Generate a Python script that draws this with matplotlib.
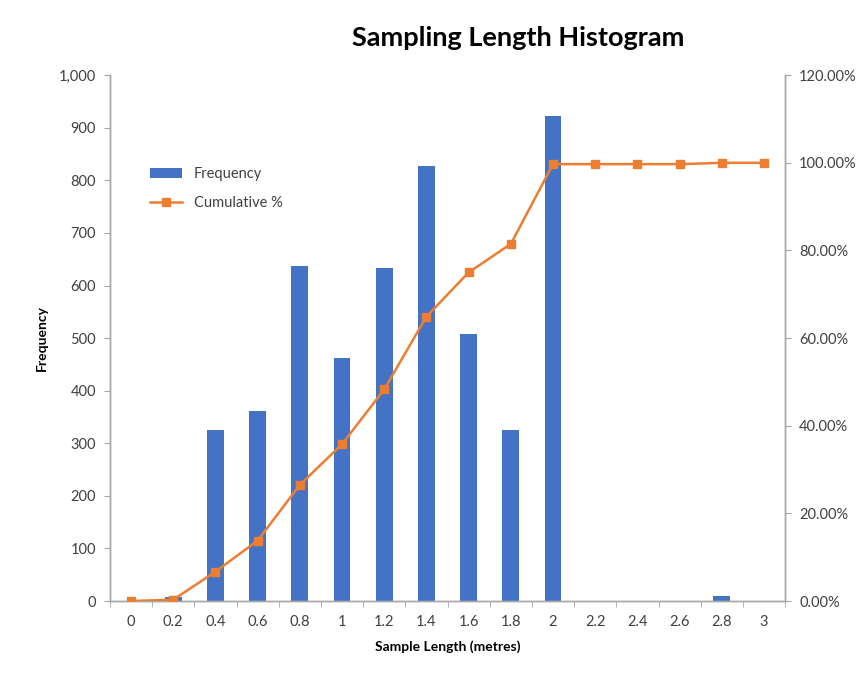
import matplotlib
matplotlib.use('Agg')
import matplotlib.pyplot as plt
from matplotlib.ticker import FuncFormatter, FixedLocator
import numpy as np

plt.rcParams['font.family'] = ['Lato', 'DejaVu Sans']

bins = ['0', '0.2', '0.4', '0.6', '0.8', '1', '1.2', '1.4', '1.6', '1.8',
        '2', '2.2', '2.4', '2.6', '2.8', '3']
frequency = [0, 7, 326, 361, 637, 462, 634, 827, 508, 326, 923, 0, 0, 0, 10, 0]
cumulative_pct = [0.0, 0.3, 6.7, 13.8, 26.5, 35.8, 48.3, 64.9, 75.0, 81.5,
                  99.7, 99.7, 99.7, 99.7, 100.0, 100.0]

blue = '#4472C4'
orange = '#ED7D31'
grey = '#A6A6A6'
txt = '#404040'

fig = plt.figure(figsize=(8.59, 6.75), dpi=100)
ax = fig.add_axes([0.128, 0.1096, 0.786, 0.779])
ax2 = ax.twinx()

x = np.arange(len(bins))
bars = ax.bar(x, frequency, width=0.4, color=blue, label='Frequency', zorder=2)
line, = ax2.plot(x, np.array(cumulative_pct) / 100, color=orange, lw=1.8,
                 marker='s', markersize=5.5, label='Cumulative %', zorder=3)

ax.set_xlim(-0.5, len(bins) - 0.5)
ax.set_ylim(0, 1000)
ax2.set_ylim(0, 1.2)

ax.set_xticks(x)
ax.set_xticklabels(bins)
ax.xaxis.set_minor_locator(FixedLocator(np.arange(-0.5, len(bins), 1.0)))
ax.tick_params(axis='x', which='major', length=0, pad=10, labelsize=10.5, labelcolor=txt)
ax.tick_params(axis='x', which='minor', length=4, color=grey)

ax.set_yticks(np.arange(0, 1001, 100))
ax.yaxis.set_major_formatter(FuncFormatter(lambda v, p: f'{int(v):,}'))
ax.tick_params(axis='y', length=4, color=grey, labelsize=10.5, labelcolor=txt, pad=6)

ax2.set_yticks(np.arange(0, 1.21, 0.2))
ax2.yaxis.set_major_formatter(FuncFormatter(lambda v, p: f'{v * 100:.2f}%'))
ax2.tick_params(axis='y', length=4, color=grey, labelsize=10.5, labelcolor=txt, pad=6)

for a in (ax, ax2):
    a.spines['top'].set_visible(False)
    for s in ('left', 'right', 'bottom'):
        a.spines[s].set_color(grey)
        a.spines[s].set_linewidth(1)

ax.set_xlabel('Sample Length (metres)', fontsize=10, fontweight='bold', color='black', labelpad=8)
ax.set_ylabel('Frequency', fontsize=10, fontweight='bold', color='black', labelpad=8)

fig.text(0.603, 0.944, 'Sampling Length Histogram', ha='center', va='center',
         fontsize=19.5, fontweight='bold', color='black')

ax.legend([bars, line], ['Frequency', 'Cumulative %'], loc='upper left',
          bbox_to_anchor=(0.04, 0.85), frameon=False, fontsize=10.5,
          handlelength=2.2, labelspacing=1.0, labelcolor=txt)

fig.savefig('out.png', dpi=100)
